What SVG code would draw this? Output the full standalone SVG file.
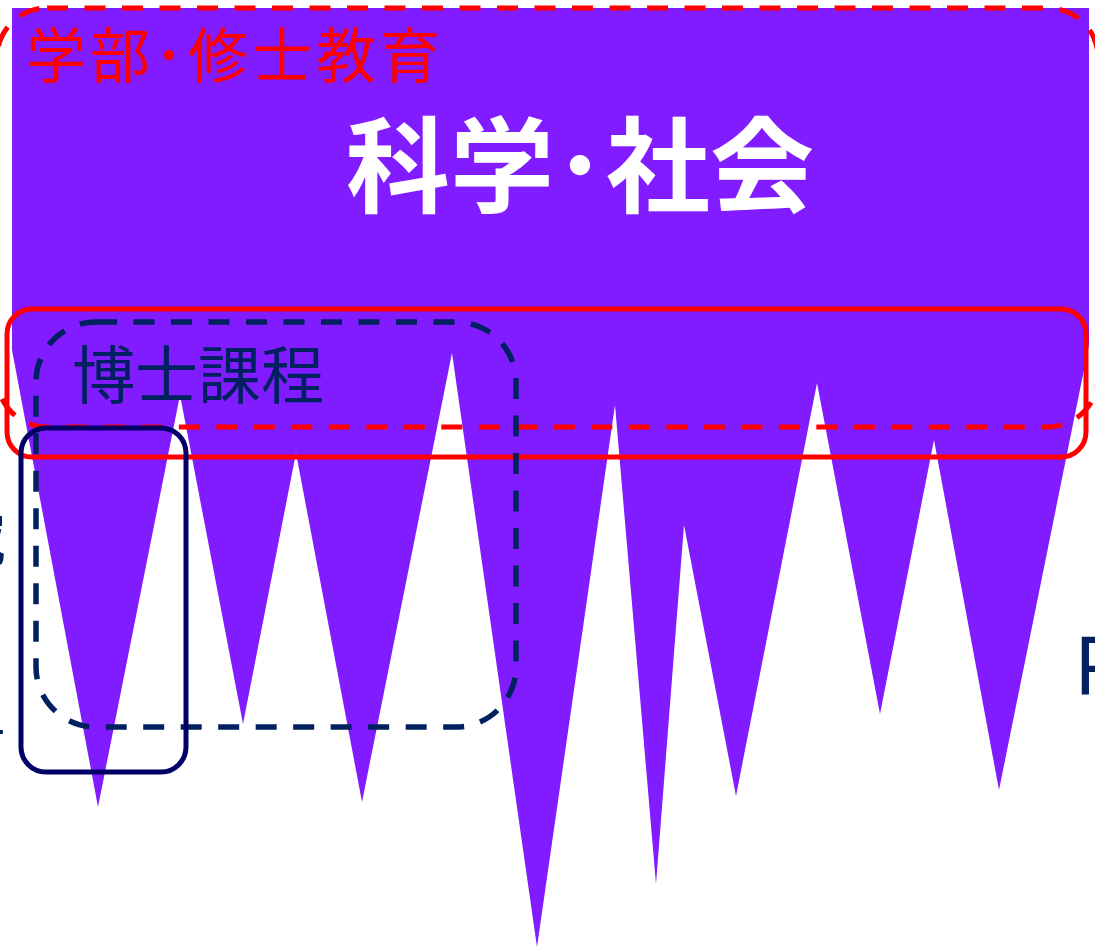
<svg xmlns="http://www.w3.org/2000/svg" width="1095" height="951" viewBox="0 0 1095 951">
  <style>
    .jp { font-family: "Noto Sans CJK JP", "Noto Sans CJK SC", sans-serif; }
    .reddash { fill: none; stroke: #FF0000; stroke-width: 5; stroke-dasharray: 21 16.5; }
    .redsolid { fill: none; stroke: #FF0000; stroke-width: 5; }
    .navydash { fill: none; stroke: #002060; stroke-width: 5.5; stroke-dasharray: 21 16.5; }
    .navysolid { fill: none; stroke: #000066; stroke-width: 5; }
  </style>
  <rect width="1095" height="951" fill="#FFFFFF"/>
  <g id="science-society">
    <polygon fill="#801CFF" points="12,8 1089,8 1089,345 999,790 934,440 880,714 817,383 736,796 684,525 656,884 615,405 537,947 452,353 362,802 296,453 243,724 180,395 98,807 12,350"/>
    <text class="jp" x="580" y="205" font-size="104" font-weight="bold" fill="#FFFFFF" text-anchor="middle">科学･社会</text>
  </g>
  <g id="edge-text">
    <text class="jp" x="6" y="560" font-size="58" fill="#002060" text-anchor="end">究</text>
    <text class="jp" x="6" y="760" font-size="58" fill="#002060" text-anchor="end">者</text>
    <text x="1074" y="694" font-family="Noto Sans, sans-serif" font-size="80" fill="#002060">P</text>
  </g>
  <g id="undergrad-master">
    <rect class="reddash" x="-3" y="8" width="1101" height="419" rx="50"/>
    <text class="jp" x="26" y="78" font-size="60" letter-spacing="4" fill="#FF0000">学部･修士教育</text>
  </g>
  <g id="band">
    <rect class="redsolid" x="7" y="309" width="1079" height="148" rx="25"/>
  </g>
  <g id="doctoral">
    <rect class="navydash" x="36" y="322" width="480" height="405" rx="60"/>
    <text class="jp" x="72" y="398" font-size="63" fill="#002060">博士課程</text>
  </g>
  <g id="single">
    <rect class="navysolid" x="21" y="428" width="165" height="344" rx="25"/>
  </g>
  <g id="connectors"></g>
</svg>
